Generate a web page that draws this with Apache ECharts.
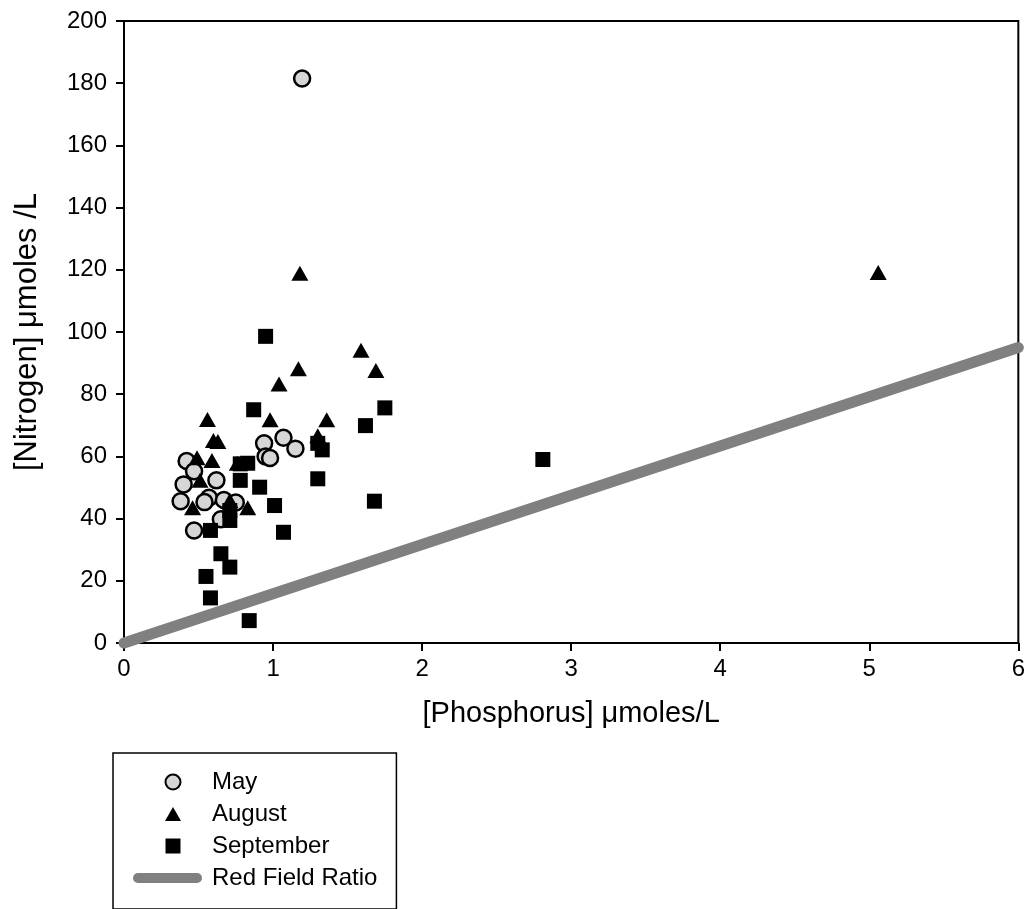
<!DOCTYPE html>
<html>
<head>
<meta charset="utf-8">
<script src="https://cdn.jsdelivr.net/npm/echarts@6/dist/echarts.min.js"></script>
<style>
html,body{margin:0;padding:0;background:#fff;}
#chart{width:1028px;height:909px;}
</style>
</head>
<body>
<div id="chart"></div>
<script>
// May samples [P, N]
const mayData = [
  [1.195, 181.5], [0.42, 58.5], [0.47, 55.2], [0.40, 51.0], [0.38, 45.6],
  [0.62, 52.3], [0.57, 46.7], [0.54, 45.3], [0.67, 46.0], [0.75, 45.2],
  [0.65, 39.8], [0.47, 36.2], [0.94, 64.2], [1.07, 66.0], [1.15, 62.5],
  [0.95, 60.0], [0.98, 59.5]
];
// August samples [P, N]
const augustData = [
  [5.06, 119.1], [1.18, 118.9], [1.59, 94.1], [1.17, 88.2], [1.69, 87.6],
  [1.04, 83.3], [0.98, 71.8], [1.36, 71.8], [1.30, 66.6], [0.56, 71.9],
  [0.60, 65.1], [0.63, 64.8], [0.49, 59.6], [0.59, 58.7], [0.76, 57.8],
  [0.51, 52.3], [0.46, 43.5], [0.83, 43.5], [0.71, 45.8]
];
// September samples [P, N]
const septemberData = [
  [0.95, 98.6], [0.87, 75.0], [1.75, 75.6], [1.62, 69.9], [1.30, 64.2],
  [1.33, 62.1], [1.30, 52.8], [0.91, 50.1], [1.01, 44.2], [1.07, 35.6],
  [1.68, 45.6], [0.78, 57.6], [0.83, 57.8], [0.78, 52.3], [0.71, 42.6],
  [0.71, 39.4], [0.58, 36.2], [0.65, 28.7], [0.71, 24.4], [0.55, 21.4],
  [0.58, 14.5], [0.84, 7.2], [2.81, 59.0]
];
// Red Field Ratio line endpoints [P, N]
const redfieldData = [[0, 0], [6, 95]];

const seriesNames = ['May', 'August', 'September', 'Red Field Ratio'];
const xTicks = {min: 0, max: 6, interval: 1};
const yTicks = {min: 0, max: 200, interval: 20};

const FONT = '"Liberation Sans", Arial, sans-serif';
const chart = echarts.init(document.getElementById('chart'), null, {renderer: 'canvas'});

// legend icons: invisible corner moves keep the icon's box equal to itemWidth x itemHeight
const LW = 59, LH = 16;
const box = 'M0,0M' + LW + ',' + LH;
const iconCircle = 'path://' + box + 'M27.5,8A7.5,7.5 0 1,0 42.5,8A7.5,7.5 0 1,0 27.5,8Z';
const iconTri = 'path://' + box + 'M27,15L35,1L43,15Z';
const iconRect = 'path://' + box + 'M27.5,0.5L42.5,0.5L42.5,15.5L27.5,15.5Z';

chart.setOption({
  backgroundColor: '#fff',
  animation: false,
  textStyle: {fontFamily: FONT, color: '#000'},
  grid: {left: 124, right: 9, top: 21, bottom: 266, show: true, borderColor: '#000', borderWidth: 2, backgroundColor: 'transparent'},
  xAxis: {
    type: 'value', min: xTicks.min, max: xTicks.max, interval: xTicks.interval,
    name: '[Phosphorus] \u03bcmoles/L', nameLocation: 'middle', nameGap: 56,
    nameTextStyle: {fontSize: 29, color: '#000', fontFamily: FONT},
    axisLine: {show: true, onZero: false, lineStyle: {color: '#000', width: 2}},
    axisTick: {show: true, inside: false, length: 8, lineStyle: {color: '#000', width: 2}},
    axisLabel: {fontSize: 24, color: '#000', margin: 14, fontFamily: FONT},
    splitLine: {show: false}
  },
  yAxis: {
    type: 'value', min: yTicks.min, max: yTicks.max, interval: yTicks.interval,
    name: '[Nitrogen] \u03bcmoles /L', nameLocation: 'middle', nameGap: 81, nameRotate: 90,
    nameTextStyle: {fontSize: 31, color: '#000', fontFamily: FONT},
    axisLine: {show: true, onZero: false, lineStyle: {color: '#000', width: 2}},
    axisTick: {show: true, inside: false, length: 8, lineStyle: {color: '#000', width: 2}},
    axisLabel: {fontSize: 24, color: '#000', margin: 17, fontFamily: FONT},
    splitLine: {show: false}
  },
  legend: {
    orient: 'vertical', left: 113, top: 753,
    padding: [17, 19, 19, 20],
    borderColor: '#000', borderWidth: 1.5, backgroundColor: '#fff',
    itemWidth: LW, itemHeight: LH, itemGap: 8,
    textStyle: {fontSize: 24, color: '#000', fontFamily: FONT, lineHeight: 24, padding: [0, 0, 0, 10]},
    data: [
      {name: seriesNames[0], icon: iconCircle},
      {name: seriesNames[1], icon: iconTri},
      {name: seriesNames[2], icon: iconRect},
      {name: seriesNames[3], itemStyle: {opacity: 0}, lineStyle: {width: 10, color: '#808080', cap: 'round'}}
    ]
  },
  series: [
    {
      name: seriesNames[0], type: 'scatter', data: mayData, symbol: 'circle', symbolSize: 16, z: 3,
      itemStyle: {color: '#d6d6d6', borderColor: '#000', borderWidth: 2.5, opacity: 1}
    },
    {
      name: seriesNames[1], type: 'scatter', data: augustData, symbol: 'triangle', symbolSize: [17, 15], z: 3,
      itemStyle: {color: '#000', opacity: 1}
    },
    {
      name: seriesNames[2], type: 'scatter', data: septemberData, symbol: 'rect', symbolSize: 15, z: 3,
      itemStyle: {color: '#000', opacity: 1}
    },
    {
      name: seriesNames[3], type: 'line', data: redfieldData, showSymbol: false, symbol: 'none', z: 4,
      lineStyle: {color: '#808080', width: 11, cap: 'round'}, itemStyle: {color: '#808080'}, clip: false
    }
  ]
});
</script>
</body>
</html>
